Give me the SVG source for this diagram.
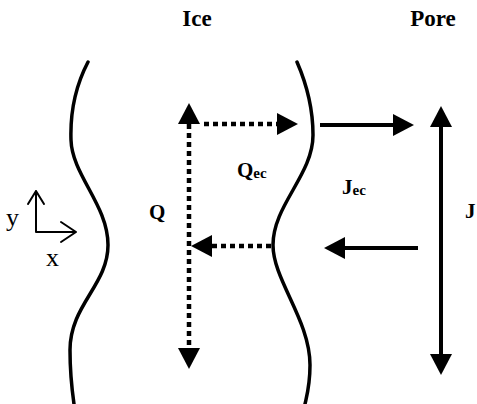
<svg xmlns="http://www.w3.org/2000/svg" width="477" height="404" viewBox="0 0 477 404">
<style>
.lbl{font-family:"Liberation Serif","Times New Roman",serif;font-weight:bold;fill:#000}
.ax{font-family:"Liberation Serif","Times New Roman",serif;fill:#000}
.wall{fill:none;stroke:#000;stroke-width:3.5;stroke-linecap:round}
.dot{fill:none;stroke:#000;stroke-width:4.5;stroke-dasharray:5 4}
.sol{fill:none;stroke:#000;stroke-width:4}
.thin{fill:none;stroke:#000;stroke-width:2;stroke-linecap:round;stroke-linejoin:round}
</style>
<defs>
<marker id="head" viewBox="0 -11 21 22" refX="0" refY="0" markerWidth="21" markerHeight="22" markerUnits="userSpaceOnUse" orient="auto-start-reverse">
<path d="M0,-11 L21,0 L0,11 z" fill="#000"/>
</marker>
</defs>
<rect width="477" height="404" fill="#fff"/>
<g id="ice">
<path class="wall" d="M88 62 C76 85,70 110,71 140 C72 175,108 205,108 245 C108 285,70 305,70 350 C70 375,72 390,74 404"/>
<path class="wall" d="M297 62 C307 85,313 110,313 135 C313 175,273 205,273 245 C273 280,310 320,310 365 C310 385,307 395,305 404"/>
<text class="lbl" x="197" y="26" font-size="23" text-anchor="middle">Ice</text>
</g>
<g id="pore">
<text class="lbl" x="433" y="26" font-size="23" text-anchor="middle">Pore</text>
</g>
<g id="axes">
<path class="thin" d="M36 232 V191 M28 204 L36 191 L44 204 M36 232 H76 M61 222 L76 232 L61 242"/>
<text class="ax" x="6" y="226" font-size="26">y</text>
<text class="ax" x="46" y="266" font-size="26">x</text>
</g>
<g id="connectors">
<path class="dot" d="M189 124 V348" marker-start="url(#head)" marker-end="url(#head)"/>
<path class="dot" d="M204 124 H277" marker-end="url(#head)"/>
<path class="dot" d="M271 246 H212" marker-end="url(#head)"/>
<path class="sol" d="M320 125 H393" marker-end="url(#head)"/>
<path class="sol" d="M418 248 H345" marker-end="url(#head)"/>
<path class="sol" d="M441 127 V354" marker-start="url(#head)" marker-end="url(#head)"/>
</g>
<g id="labels">
<text class="lbl" x="149" y="219" font-size="21">Q</text>
<text class="lbl" x="237" y="177" font-size="21">Q<tspan font-size="15" dy="1">ec</tspan></text>
<text class="lbl" x="342" y="194" font-size="21">J<tspan font-size="15" dy="1">ec</tspan></text>
<text class="lbl" x="465" y="218" font-size="21">J</text>
</g>
</svg>
